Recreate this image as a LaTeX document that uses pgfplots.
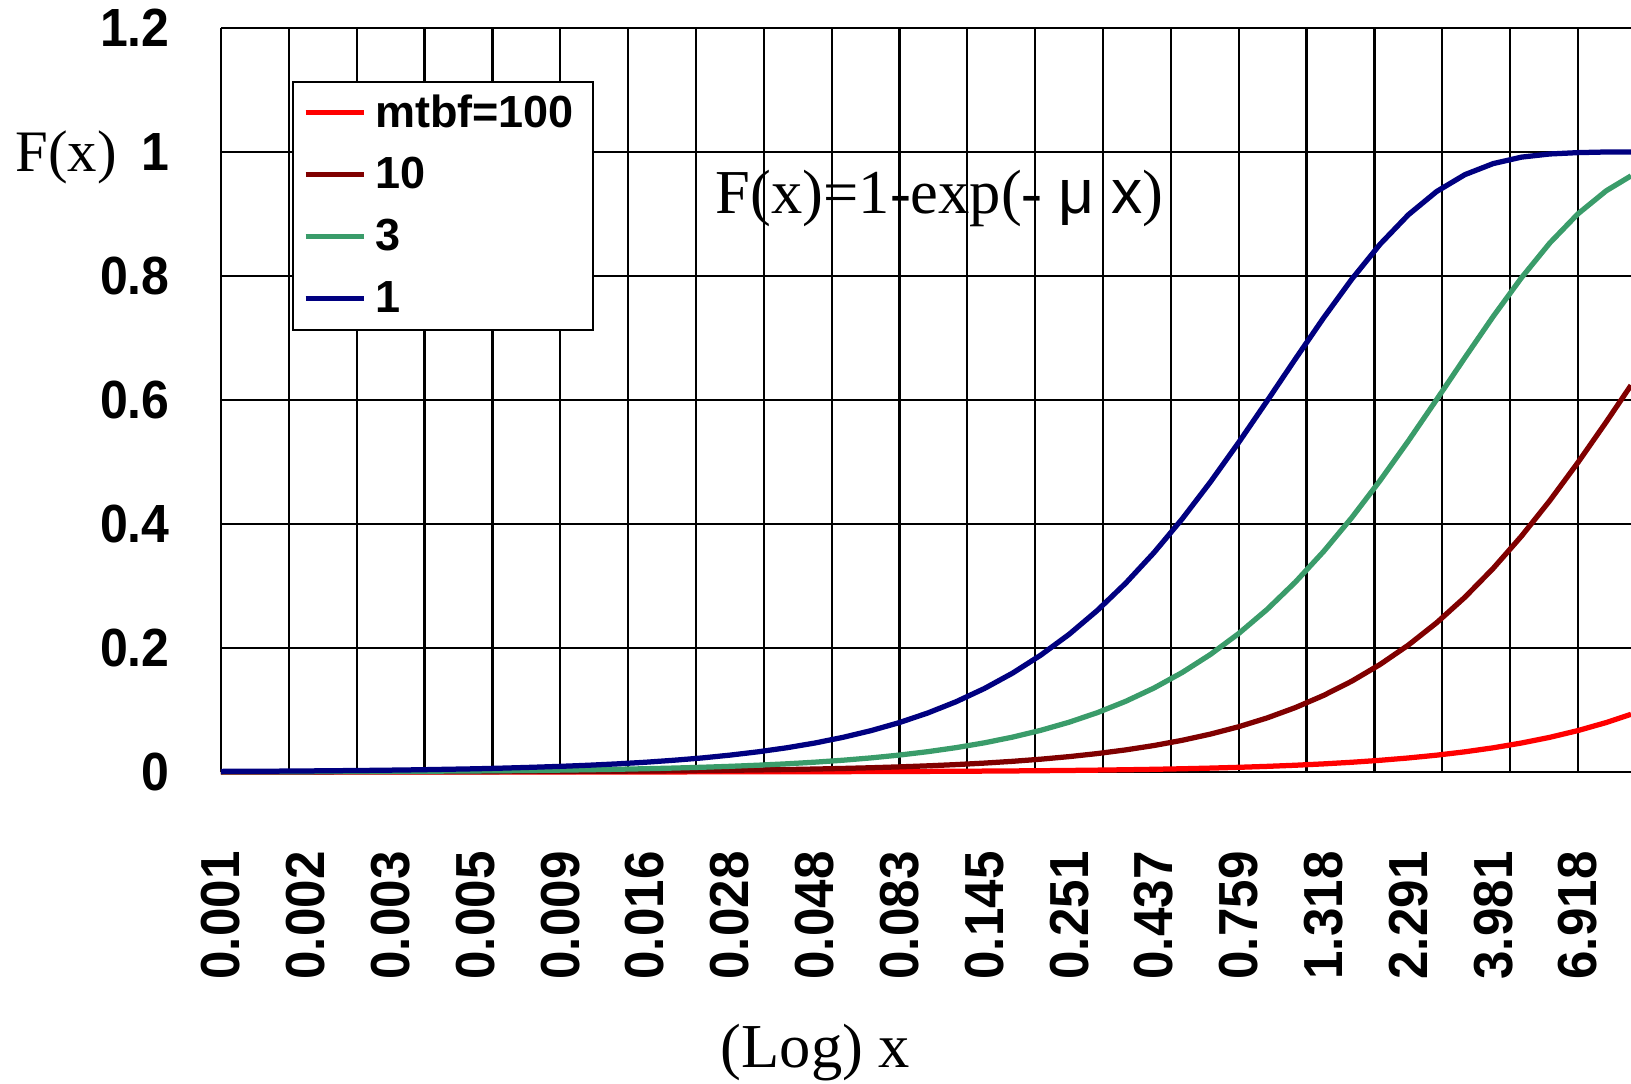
\documentclass[border=0pt]{standalone}
\usepackage{pgfplots}
\pgfplotsset{compat=1.18}
\usepackage{pgfplotstable}
\usepackage{fontspec}
\setmainfont{Liberation Serif}
\newfontfamily\tickfont[FakeStretch=0.93]{Liberation Sans}
\newfontfamily\sansf{Liberation Sans}
\definecolor{cRed}{RGB}{255,0,0}
\definecolor{cDarkRed}{RGB}{128,0,0}
\definecolor{cGreen}{RGB}{58,156,106}
\definecolor{cNavy}{RGB}{0,0,128}

\pgfplotstableread{
u m100 m10 m3 m1
-3.00 0.00001 0.00010 0.00033 0.0010
-2.92 0.00001 0.00012 0.00040 0.0012
-2.84 0.00001 0.00014 0.00048 0.0014
-2.76 0.00002 0.00017 0.00058 0.0017
-2.68 0.00002 0.00021 0.00070 0.0021
-2.60 0.00003 0.00025 0.00084 0.0025
-2.52 0.00003 0.00030 0.00101 0.0030
-2.44 0.00004 0.00036 0.00121 0.0036
-2.36 0.00004 0.00044 0.00145 0.0044
-2.28 0.00005 0.00052 0.00175 0.0052
-2.20 0.00006 0.00063 0.00210 0.0063
-2.12 0.00008 0.00076 0.00253 0.0076
-2.04 0.00009 0.00091 0.00304 0.0091
-1.96 0.00011 0.00110 0.00365 0.0109
-1.88 0.00013 0.00132 0.00438 0.0131
-1.80 0.00016 0.00158 0.00527 0.0157
-1.72 0.00019 0.00190 0.00633 0.0189
-1.64 0.00023 0.00229 0.00761 0.0226
-1.56 0.00028 0.00275 0.00914 0.0272
-1.48 0.00033 0.00331 0.01098 0.0326
-1.40 0.00040 0.00397 0.01318 0.0390
-1.32 0.00048 0.00477 0.01583 0.0467
-1.24 0.00058 0.00574 0.01900 0.0559
-1.16 0.00069 0.00689 0.02280 0.0668
-1.08 0.00083 0.00828 0.02734 0.0798
-1.00 0.00100 0.00995 0.03278 0.0952
-0.92 0.00120 0.01195 0.03929 0.1133
-0.84 0.00144 0.01435 0.04704 0.1346
-0.76 0.00174 0.01723 0.05628 0.1595
-0.68 0.00209 0.02068 0.06727 0.1886
-0.60 0.00251 0.02481 0.08032 0.2221
-0.52 0.00302 0.02975 0.09576 0.2607
-0.44 0.00363 0.03565 0.11399 0.3045
-0.36 0.00436 0.04271 0.13541 0.3537
-0.28 0.00523 0.05113 0.16049 0.4083
-0.20 0.00629 0.06115 0.18966 0.4679
-0.12 0.00756 0.07305 0.22342 0.5317
-0.04 0.00908 0.08716 0.26214 0.5983
0.04 0.01090 0.10386 0.30617 0.6660
0.12 0.01310 0.12351 0.35560 0.7324
0.20 0.01572 0.14657 0.41038 0.7950
0.28 0.01887 0.17350 0.47015 0.8513
0.36 0.02265 0.20474 0.53403 0.8988
0.44 0.02716 0.24075 0.60071 0.9363
0.52 0.03257 0.28190 0.66836 0.9635
0.60 0.03903 0.32843 0.73472 0.9813
0.68 0.04674 0.38039 0.79718 0.9917
0.76 0.05592 0.43755 0.85312 0.9968
0.84 0.06685 0.49934 0.90034 0.9990
0.92 0.07981 0.56470 0.93750 1.0000
0.99 0.09310 0.62370 0.96150 1.0000
}\datatable

\begin{document}
\begin{tikzpicture}
\begin{axis}[
  name=ax,
  scale only axis,
  width=564pt, height=297.6pt,
  xmin=-3, xmax=0.99, ymin=0, ymax=1.2,
  axis x line*=bottom, axis y line*=left,
  axis line style={-, line width=1pt, black},
  xtick={-3,-2.76,-2.52,-2.28,-2.04,-1.8,-1.56,-1.32,-1.08,-0.84,-0.6,-0.36,-0.12,0.12,0.36,0.6,0.84},
  xticklabels={0.001,0.002,0.003,0.005,0.009,0.016,0.028,0.048,0.083,0.145,0.251,0.437,0.759,1.318,2.291,3.981,6.918},
  minor xtick={-3,-2.808,-2.616,-2.424,-2.232,-2.04,-1.848,-1.656,-1.464,-1.272,-1.08,-0.888,-0.696,-0.504,-0.312,-0.12,0.072,0.264,0.456,0.648,0.84},
  ytick={0,0.2,0.4,0.6,0.8,1,1.2},
  yticklabels={0,0.2,0.4,0.6,0.8,1,1.2},
  xmajorgrids=false, xminorgrids=true, ymajorgrids=true,
  grid style={black, line width=0.9pt},
  minor grid style={black, line width=0.9pt},
  major tick length=0pt, minor tick length=0pt,
  xticklabel style={yshift=-83.2pt, rotate=90, anchor=west, inner sep=0pt,
    font=\tickfont\bfseries\fontsize{22}{22}\selectfont},
  yticklabel style={anchor=east, inner sep=0pt, xshift=-20.4pt,
    font=\tickfont\bfseries\fontsize{21.5}{21.5}\selectfont},
  clip=false,
  legend cell align=left,
  legend image code/.code={\draw[#1, line width=2pt] (0pt,0pt) -- (23.3pt,0pt);},
  legend style={at={(0.0504,0.9288)}, anchor=north west,
    draw=black, line width=0.8pt, fill=white,
    inner xsep=4pt, inner ysep=0pt, row sep=0pt,
    font=\sansf\bfseries\fontsize{18}{18}\selectfont,
    nodes={inner ysep=0pt, inner xsep=3.5pt, minimum height=24.8pt}},
]
\addplot[color=cRed, line width=2.1pt] table[x=u, y=m100] {\datatable};
\addlegendentry{mtbf=100}
\addplot[color=cDarkRed, line width=2.1pt] table[x=u, y=m10] {\datatable};
\addlegendentry{10}
\addplot[color=cGreen, line width=2.1pt] table[x=u, y=m3] {\datatable};
\addlegendentry{3}
\addplot[color=cNavy, line width=2.1pt] table[x=u, y=m1] {\datatable};
\addlegendentry{1}

\node[anchor=base west, inner sep=0pt, font=\fontsize{23.5}{23.5}\selectfont] at (axis cs:-3.583,0.968) {F(x)};
\node[anchor=base west, inner sep=0pt, font=\fontsize{25}{25}\selectfont] at (axis cs:-1.601,0.9016) {F(x)=1-exp(- {\sansf μ x})};
\node[anchor=base, inner sep=0pt, font=\fontsize{25}{25}\selectfont] at (axis cs:-1.318,-0.476) {(Log) x};
\end{axis}
\pgfresetboundingbox
\path ([xshift=-88.4pt,yshift=-124.4pt]ax.south west) rectangle ([yshift=11.2pt]ax.north east);
\end{tikzpicture}
\end{document}
